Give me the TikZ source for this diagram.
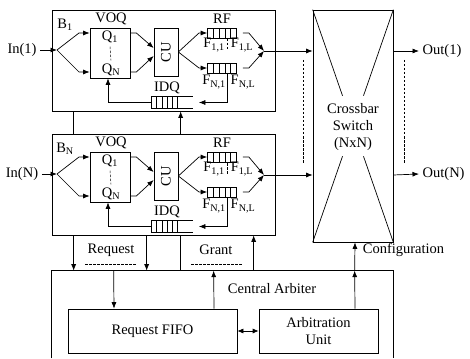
\documentclass[tikz,border=0pt]{standalone}
\usepackage{fontspec}
\setmainfont{Liberation Serif}
\usetikzlibrary{arrows.meta,calc}
\tikzset{
  arr/.style={-{Latex[length=6.5pt,width=5pt]}},
  darr/.style={{Latex[length=6pt,width=5pt]}-{Latex[length=6pt,width=5pt]}},
  thindash/.style={line width=0.5pt,dash pattern=on 2.5pt off 1.5pt},
  fifo/.style={draw,minimum width=29,minimum height=10,inner sep=0pt,
    path picture={\foreach \t in {0.2,0.4,0.6,0.8}
      \draw ($(path picture bounding box.south west)!\t!(path picture bounding box.south east)$)
         -- ($(path picture bounding box.north west)!\t!(path picture bounding box.north east)$);}},
}
\begin{document}
\begin{tikzpicture}[x=1pt,y=-1pt,line width=0.7pt,font=\fontsize{14.5}{17}\selectfont]
\useasboundingbox (0,0) rectangle (470,358);
% input blocks B_1 ... B_N
\foreach \k/\dy in {1/0,N/124}{
\begin{scope}[shift={(0,\dy)}]
\node[draw,minimum width=223,minimum height=101] (b\k) at (163.5,60.5) {};
\node (in\k) at (22,50) {In(\k)};
\coordinate (sp\k) at (57,50);
\draw[arr] (in\k.east) -- (sp\k);
\node (bl\k) at (65,25) {B\textsubscript{\k}};
% VOQ
\node[draw,minimum width=40,minimum height=50] (voq\k) at (110,53) {};
\node (voql\k) at (111,19) {VOQ};
\node (q1\k) at (110,37) {Q\textsubscript{1}};
\node (qn\k) at (111,70) {Q\textsubscript{N}};
\draw[thindash] (q1\k.south) -- (qn\k.north);
\draw[arr] (sp\k) -- ++(22,-17) -- ([yshift=20pt]voq\k.west);
\draw[arr] (sp\k) -- ++(22,22) -- ([yshift=-19pt]voq\k.west);
% CU
\node[draw,minimum width=24,minimum height=48] (cu\k) at (166,52) {\rotatebox{90}{CU}};
\draw[arr] ([yshift=20pt]voq\k.east) -- ++(6,0) -- ([yshift=4pt]cu\k.west);
\draw[arr] ([yshift=-19pt]voq\k.east) -- ++(6,0) -- ([yshift=-4pt]cu\k.west);
% RF
\node (rfl\k) at (222,19) {RF};
\node[fifo] (r1\k) at (222,33) {};
\node[fifo] (rn\k) at (222,68) {};
\draw[arr] (cu\k.east) -- (199,33) -- (r1\k.west);
\draw[arr] (cu\k.east) -- (199,68) -- (rn\k.west);
\node (f11\k) at (214,45) {F\textsubscript{1,1}};
\node (f1l\k) at (242,45) {F\textsubscript{1,L}};
\node (fn1\k) at (214,82) {F\textsubscript{N,1}};
\node (fnl\k) at (243,82) {F\textsubscript{N,L}};
\draw[thindash] (227,39) -- (227,51);
% IDQ
\node[minimum width=41,minimum height=11,inner sep=0pt] (idq\k) at (172,102.5) {};
\draw (idq\k.north east) -- (idq\k.north west) -- (idq\k.south west) -- (idq\k.south east);
\foreach \t in {0.13,0.26,0.39,0.52,0.64}
  \draw ($(idq\k.south west)!\t!(idq\k.south east)$) -- ($(idq\k.north west)!\t!(idq\k.north east)$);
\node (idql\k) at (167,88) {IDQ};
\coordinate (rt\k) at (227,74);
\draw[arr] (rt\k) |- ([xshift=6pt]idq\k.east);
\draw[arr] (idq\k.west) -| ([xshift=-2pt]voq\k.south);
% to the crossbar
\coordinate (mg\k) at (264,51);
\draw[arr] ([xshift=6pt]r1\k.east) -- ++(6,0) -- (mg\k);
\draw[arr] ([xshift=6pt]rn\k.east) -- ++(6,0) -- (mg\k);
\end{scope}
}
% crossbar
\node[draw,minimum width=80,minimum height=232] (xbar) at (353,126) {};
\draw (xbar.north west) -- ($(xbar.north west)!0.37!(xbar.south east)$);
\draw ($(xbar.north west)!0.63!(xbar.south east)$) -- (xbar.south east);
\draw (xbar.north east) -- ($(xbar.north east)!0.37!(xbar.south west)$);
\draw ($(xbar.north east)!0.63!(xbar.south west)$) -- (xbar.south west);
\node[align=center] (xlab) at (353,127) {Crossbar\\Switch\\(NxN)};
\draw[arr] (mg1) -- (mg1 -| xbar.west);
\draw[arr] (mgN) -- (mgN -| xbar.west);
\node[anchor=west] (out1) at (419,51) {Out(1)};
\node[anchor=west] (outN) at (419,174) {Out(N)};
\draw[arr] (mg1 -| xbar.east) -- (out1.west);
\draw[arr] (mgN -| xbar.east) -- (outN.west);
\draw[thindash] (303,60) -- (303,163);
\draw[thindash] (404,60) -- (404,163);
% central arbiter
\node[minimum width=341,minimum height=87,inner sep=0pt] (arb) at (222.5,314.5) {};
\draw (arb.south west) -- (arb.north west) -- (arb.north east) -- (arb.south east);
\node (cal) at (272,289) {Central Arbiter};
\node[draw,minimum width=169,minimum height=44] (rfifo) at (152.5,331) {Request FIFO};
\node[draw,minimum width=119,minimum height=44,align=center] (aunit) at (318.5,331) {Arbitration\\Unit};
\draw[darr] (rfifo.east) -- (aunit.west);
\draw[arr] ([xshift=62pt]arb.north west) -- ([xshift=-38.5pt]rfifo.north);
\draw[arr] ([xshift=61.5pt]rfifo.north) -- ([xshift=162pt]arb.north west);
\draw[arr] ([xshift=36.5pt]aunit.north) -- ([xshift=303pt]arb.north west);
\draw[arr] ([xshift=303pt]arb.north west) -- ([xshift=2pt]xbar.south);
% request / grant lines
\draw ([xshift=22pt]b1.south west) -- ([xshift=22pt]bN.north west);
\draw[arr] ([xshift=22pt]bN.south west) -- ([xshift=22pt]arb.north west);
\draw[arr] ([xshift=95pt]bN.south west) -- ([xshift=95pt]arb.north west);
\draw[arr] ([xshift=129pt]bN.north west) -- ([xshift=129pt]b1.south west);
\draw ([xshift=129pt]arb.north west) -- ([xshift=129pt]bN.south west);
\draw[arr] ([xshift=202pt]arb.north west) -- ([xshift=202pt]bN.south west);
\node (reql) at (111,250) {Request};
\draw[thindash] (85,264) -- (137,264);
\node (grl) at (216,250) {Grant};
\draw[thindash] (191,264) -- (243,264);
\node (cfl) at (403.5,250) {Configuration};
\end{tikzpicture}
\end{document}
